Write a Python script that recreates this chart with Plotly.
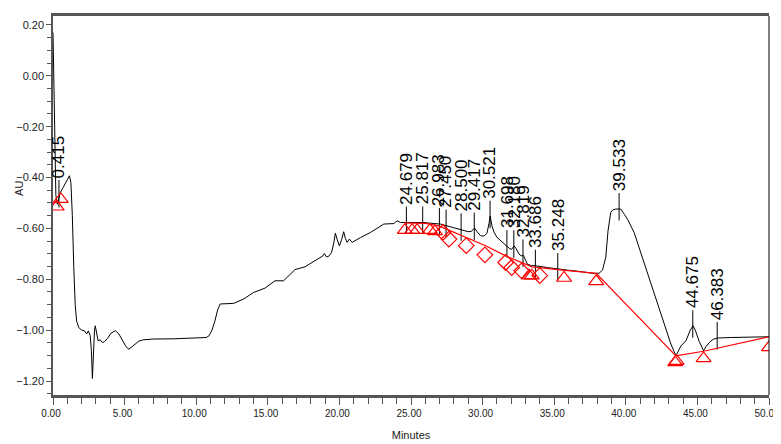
import numpy as np
import plotly.graph_objects as go

# detector trace (minutes, AU)
time_min = [0.00, 0.04, 0.08, 0.13, 0.20, 0.30, 0.40, 0.50, 0.70, 0.90, 1.05, 1.15, 1.25, 1.35, 1.45,
            1.55, 1.65, 1.80, 2.00, 2.20, 2.35, 2.47, 2.60, 2.68, 2.75, 2.82, 2.90, 2.95, 3.05, 3.15,
            3.30, 3.45, 3.60, 3.80, 4.05, 4.35, 4.60, 4.85, 5.10, 5.30, 5.50, 5.75, 6.00, 6.30, 7.00,
            8.50, 10.00, 10.70, 10.90, 11.10, 11.30, 11.50, 11.68, 12.00, 12.60, 13.30, 14.00, 14.80,
            15.50, 16.10, 16.50, 16.90, 17.60, 18.00, 18.55, 18.85, 18.95, 19.10, 19.25, 19.45, 19.60,
            19.72, 19.85, 20.00, 20.15, 20.30, 20.42, 20.54, 20.70, 20.89, 21.47, 22.17, 23.10, 23.80,
            24.03, 24.27, 25.00, 25.90, 26.60, 27.06, 27.50, 28.00, 28.46, 29.00, 29.20, 29.45, 29.60,
            29.86, 30.10, 30.30, 30.45, 30.53, 30.65, 30.80, 31.00, 31.26, 31.50, 31.73, 31.90, 32.03,
            32.20, 32.35, 32.54, 32.70, 32.85, 33.00, 33.13, 33.40, 33.71, 34.52, 35.20, 35.92, 37.00,
            37.78, 38.14, 38.37, 38.60, 38.76, 38.95, 39.10, 39.30, 39.65, 39.90, 40.12, 40.58, 41.05,
            41.75, 42.45, 43.15, 43.50, 43.70, 43.85, 44.20, 44.50, 44.70, 44.85, 45.13, 45.43, 45.60,
            45.83, 46.10, 46.41, 47.34, 50.00]
absorbance = [0.170, 0.050, -0.150, -0.350, -0.470, -0.505, -0.475, -0.460, -0.440, -0.420, -0.400,
              -0.393, -0.420, -0.550, -0.750, -0.900, -0.965, -0.990, -1.000, -1.003, -1.015, -1.003,
              -1.022, -1.080, -1.190, -1.080, -1.000, -0.983, -1.020, -1.042, -1.038, -1.049, -1.045,
              -1.033, -1.012, -1.002, -1.015, -1.040, -1.065, -1.075, -1.065, -1.052, -1.043, -1.038,
              -1.035, -1.034, -1.032, -1.029, -1.022, -1.000, -0.965, -0.920, -0.897, -0.897, -0.895,
              -0.878, -0.852, -0.835, -0.806, -0.806, -0.785, -0.762, -0.751, -0.737, -0.721, -0.708,
              -0.699, -0.712, -0.710, -0.695, -0.660, -0.619, -0.645, -0.669, -0.645, -0.613, -0.640,
              -0.655, -0.642, -0.655, -0.636, -0.616, -0.583, -0.581, -0.570, -0.577, -0.577, -0.577,
              -0.581, -0.583, -0.590, -0.597, -0.603, -0.613, -0.612, -0.599, -0.612, -0.629, -0.630,
              -0.620, -0.580, -0.551, -0.590, -0.615, -0.635, -0.649, -0.662, -0.671, -0.680, -0.682,
              -0.669, -0.680, -0.701, -0.708, -0.706, -0.725, -0.741, -0.746, -0.747, -0.754, -0.760,
              -0.764, -0.771, -0.777, -0.776, -0.764, -0.714, -0.609, -0.537, -0.527, -0.524, -0.524,
              -0.545, -0.564, -0.616, -0.695, -0.819, -0.937, -1.055, -1.101, -1.080, -1.062, -1.042,
              -1.000, -0.983, -1.000, -1.045, -1.081, -1.065, -1.049, -1.036, -1.031, -1.029, -1.026]

peak_labels = ["0.415", "24.679", "25.817", "26.983", "27.450", "28.500", "29.417", "30.521",
               "31.698", "32.180", "32.819", "33.686", "35.248", "39.533", "44.675", "46.383"]

baseline_t = [24.57, 26.00, 26.95, 28.58, 30.21, 31.61, 33.00, 33.45, 35.60, 37.93, 43.50, 45.43, 50.00]
baseline_au = [-0.578, -0.580, -0.590, -0.629, -0.668, -0.708, -0.741, -0.751, -0.764, -0.777,
               -1.101, -1.083, -1.026]

tri_t = [0.26, 0.54, 24.57, 25.08, 25.43, 26.32, 26.67, 33.24, 33.43, 35.69, 37.93, 43.45, 43.55,
         45.43, 50.00]
tri_au = [-0.515, -0.485, -0.607, -0.607, -0.607, -0.607, -0.612, -0.786, -0.786, -0.795, -0.808,
          -1.127, -1.122, -1.111, -1.068]

dia_t = [27.23, 27.65, 28.86, 30.16, 31.61, 32.03, 32.73, 33.99]
dia_au = [-0.616, -0.642, -0.668, -0.704, -0.734, -0.754, -0.767, -0.786]

tick_font = dict(family="Liberation Sans, Arial", size=11, color="#222")
xtick_font = dict(family="Liberation Sans, Arial", size=10, color="#222")

fig = go.Figure()

fig.add_trace(go.Scatter(x=time_min, y=absorbance, mode="lines",
                         line=dict(color="black", width=1), hoverinfo="skip"))

# peak marker ticks + labels
peak_x = [float(p) for p in peak_labels]
peak_y = np.interp(peak_x, time_min, absorbance)
lx, ly = [], []
for px_, py_ in zip(peak_x, peak_y):
    lx += [px_, px_, None]
    ly += [py_ + 0.063, py_ - 0.045, None]
fig.add_trace(go.Scatter(x=lx, y=ly, mode="lines", line=dict(color="black", width=1), hoverinfo="skip"))
for lab, px_, py_ in zip(peak_labels, peak_x, peak_y):
    fig.add_annotation(x=px_, y=py_ + 0.063, text=lab, textangle=-90, showarrow=False,
                       xanchor="center", yanchor="bottom",
                       font=dict(family="Liberation Sans, Arial", size=17, color="black"))

fig.add_trace(go.Scatter(x=baseline_t, y=baseline_au, mode="lines",
                         line=dict(color="red", width=1.2), hoverinfo="skip"))
fig.add_trace(go.Scatter(x=tri_t, y=tri_au, mode="markers", cliponaxis=True,
                         marker=dict(symbol="triangle-up-open", size=13, color="red", line=dict(width=1.2))))
fig.add_trace(go.Scatter(x=dia_t, y=dia_au, mode="markers",
                         marker=dict(symbol="diamond-open", size=12, color="red", line=dict(width=1.2))))

fig.update_xaxes(range=[0, 50], dtick=5, tickformat=".2f", ticks="outside", ticklen=7,
                 tickcolor="#555", showline=True, linewidth=3, linecolor="#555", mirror=True,
                 showgrid=False, zeroline=False, tickfont=xtick_font, automargin=False,
                 ticklabeloverflow="allow", ticklabelshift=-2,
                 minor=dict(dtick=1, ticks="outside", ticklen=6, tickcolor="#555"),
                 title=dict(text="Minutes", font=tick_font, standoff=14))
fig.update_yaxes(range=[-1.255, 0.235], tick0=0, dtick=0.2, tickformat=".2f", ticks="outside",
                 ticklen=5, tickcolor="#555", showline=True, linewidth=1.5, linecolor="#555",
                 showgrid=False, zeroline=False, tickfont=tick_font, automargin=False,
                 minor=dict(dtick=0.05, ticks="outside", ticklen=4, tickcolor="#555"))

fig.add_shape(type="line", xref="paper", yref="paper", x0=1, x1=1, y0=0, y1=1,
              line=dict(color="black", width=1))
fig.add_annotation(xref="paper", yref="paper", x=-0.058, y=0.545, text="AU", textangle=-90,
                   showarrow=False, font=tick_font)

# page body keeps an 8px margin, so the figure is sized/offset to land on the reference box
fig.update_layout(width=773, height=436, showlegend=False, plot_bgcolor="white",
                  paper_bgcolor="white", margin=dict(l=45, r=12, t=8, b=49))

fig.write_html("out.html")
